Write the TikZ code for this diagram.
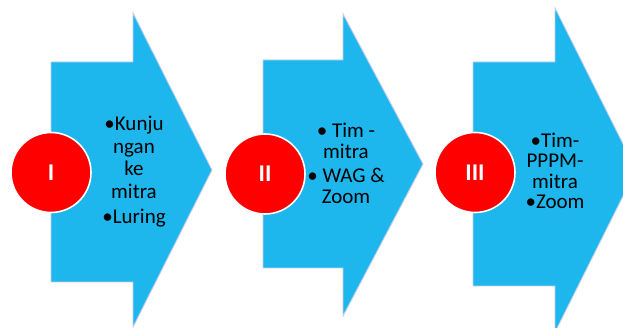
\documentclass[tikz,border=0pt]{standalone}
\usepackage{fontspec}
\setmainfont{Carlito}
\definecolor{arrowblue}{RGB}{29,183,238}
\definecolor{edgeblue}{RGB}{196,206,232}
\definecolor{stepred}{RGB}{255,0,0}
\begin{document}
\begin{tikzpicture}[x=1pt,y=-1pt,
  chevron/.style={fill=arrowblue,draw=edgeblue,line width=0.9pt,line join=miter},
  stepdisc/.style={circle,fill=stepred,draw=white,line width=1.6pt,minimum size=80pt,inner sep=0pt,
    text=white,font=\bfseries\fontsize{24}{26}\selectfont},
  steptext/.style={align=center,text=black,inner sep=0pt}]
\useasboundingbox (0,0) rectangle (623,328);
\clip (0,0) rectangle (623,328);
\fill[white] (0,0) rectangle (623,328);
% arrows
\path[chevron] (51,62) -- (133,62) -- (133,13) -- (212,170) -- (133,327) -- (133,282) -- (51,282) -- cycle;
\path[chevron] (263,60) -- (343,60) -- (343,14) -- (423,164) -- (343,316) -- (343,268) -- (263,268) -- cycle;
\path[chevron] (473,62) -- (555,62) -- (555,8) -- (636,170) -- (555,332) -- (555,286) -- (473,286) -- cycle;
% circles
\node[stepdisc] (c1) at (51,172.5) {I};
\node[stepdisc] (c2) at (265,174) {II};
\node[stepdisc] (c3) at (475,172.5) {III};
% texts
\node[steptext,font=\fontsize{21}{22.5}\selectfont] (t1) at (134,172) {•Kunju\\ngan\\ke\\mitra\\[3pt]•Luring};
\node[steptext,font=\fontsize{21}{21}\selectfont] (t2) at (346,163) {• Tim -\\mitra\\[3pt]• WAG \&\\Zoom};
\node[steptext,font=\fontsize{21}{20.5}\selectfont] (t3) at (555,171) {•Tim-\\PPPM-\\mitra\\•Zoom};
\end{tikzpicture}
\end{document}
